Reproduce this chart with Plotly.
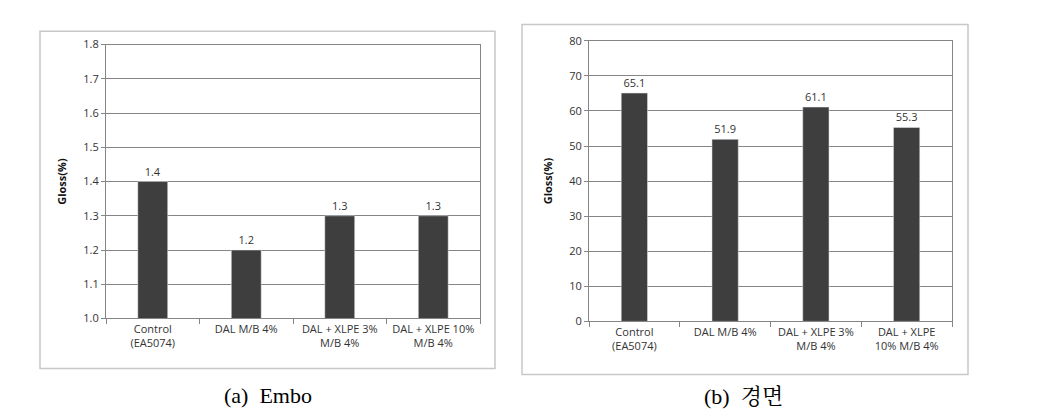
import plotly.graph_objects as go

W, H = 1051, 419

cats_a = ["Control<br>(EA5074)", "DAL M/B 4%", "DAL + XLPE 3%<br>M/B 4%", "DAL + XLPE 10%<br>M/B 4%"]
vals_a = [1.4, 1.2, 1.3, 1.3]
cats_b = ["Control<br>(EA5074)", "DAL M/B 4%", "DAL + XLPE 3%<br>M/B 4%", "DAL + XLPE<br>10% M/B 4%"]
vals_b = [65.1, 51.9, 61.1, 55.3]
ytitle = "Gloss(%)"
caption_a = "(a)  Embo"
caption_b = "(b)  경면"

bar_color = "#3e3e3e"
grid_color = "#858585"
axis_color = "#858585"
sans = "Open Sans, DejaVu Sans, sans-serif"
tick_font = dict(family=sans, size=11, color="#333333")


def px(x):
    return x / W


def py(y):
    return (H - y) / H


fig = go.Figure()
fig.add_trace(go.Bar(x=cats_a, y=vals_a, marker_color=bar_color, width=0.32,
                     text=[f"{v:.1f}" for v in vals_a], textposition="outside", cliponaxis=False,
                     textfont=tick_font, xaxis="x", yaxis="y", showlegend=False, hoverinfo="skip"))
fig.add_trace(go.Bar(x=cats_b, y=vals_b, marker_color=bar_color, width=0.29,
                     text=[f"{v:.1f}" for v in vals_b], textposition="outside", cliponaxis=False,
                     textfont=tick_font, xaxis="x2", yaxis="y2", showlegend=False, hoverinfo="skip"))

common_x = dict(showgrid=False, showline=True, linecolor=axis_color, linewidth=1, mirror=True,
                ticks="outside", tickson="boundaries", ticklen=5, tickcolor=axis_color,
                tickfont=tick_font, fixedrange=True)
common_y = dict(showgrid=True, gridcolor=grid_color, gridwidth=1, showline=True, linecolor=axis_color,
                linewidth=1, mirror=True, ticks="outside", ticklen=4, tickcolor=axis_color,
                tickfont=tick_font, zeroline=False, fixedrange=True)
title_font = dict(family=sans, size=11, color="#111111")

fig.update_layout(
    width=W, height=H, margin=dict(l=0, r=0, t=0, b=0),
    paper_bgcolor="white", plot_bgcolor="white",
    xaxis=dict(domain=[px(106), px(480)], anchor="y", **common_x),
    yaxis=dict(domain=[py(322), py(38)], anchor="x", range=[1.0, 1.8], dtick=0.1, tickformat=".1f",
               title=dict(text="<b>" + ytitle + "</b>", font=title_font, standoff=14),
               **common_y),
    xaxis2=dict(domain=[px(589), px(952)], anchor="y2", **common_x),
    yaxis2=dict(domain=[py(325), py(34)], anchor="x2", range=[0, 80], dtick=10,
                title=dict(text="<b>" + ytitle + "</b>", font=title_font, standoff=14),
                **common_y),
    shapes=[
        dict(type="rect", xref="paper", yref="paper", x0=px(40), x1=px(495), y0=py(374), y1=py(24),
             line=dict(color="#c8c8c8", width=1.5), layer="below"),
        dict(type="rect", xref="paper", yref="paper", x0=px(522), x1=px(968), y0=py(380), y1=py(17),
             line=dict(color="#c8c8c8", width=1.5), layer="below"),
    ],
    annotations=[
        dict(text=caption_a, xref="paper", yref="paper", x=px(268), y=py(402), showarrow=False,
             xanchor="center", yanchor="middle",
             font=dict(family="Liberation Serif, DejaVu Serif, serif", size=22, color="black")),
        dict(text=caption_b, xref="paper", yref="paper", x=px(743), y=py(403), showarrow=False,
             xanchor="center", yanchor="middle",
             font=dict(family="Liberation Serif, Noto Serif CJK KR, Noto Sans CJK KR, serif", size=22, color="black")),
    ],
)

fig.write_html("out.html", config={"displayModeBar": False},
               post_script="document.body.style.margin='0';document.body.style.overflow='hidden';")
